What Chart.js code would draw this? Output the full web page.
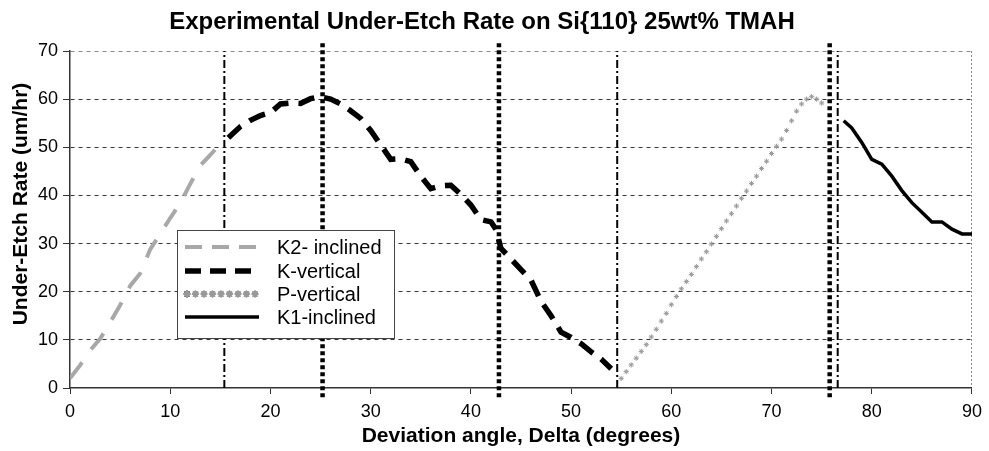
<!DOCTYPE html>
<html>
<head>
<meta charset="utf-8">
<script src="https://cdn.jsdelivr.net/npm/chart.js@4.4.1/dist/chart.umd.min.js"></script>
<style>
    html, body { margin: 0; padding: 0; background: #fff; }
</style>
</head>
<body>
<canvas id="etchChart" width="989" height="451"></canvas>
<script>
const chartTitle = 'Experimental Under-Etch Rate on Si{110} 25wt% TMAH';
const xTitle = 'Deviation angle, Delta (degrees)';
const yTitle = 'Under-Etch Rate (um/hr)';
const seriesNames = ['K2- inclined', 'K-vertical', 'P-vertical', 'K1-inclined'];

const xTicks = [0, 10, 20, 30, 40, 50, 60, 70, 80, 90];
const yTicks = [0, 10, 20, 30, 40, 50, 60, 70];

// K2- inclined
const k2Angles = [0, 1, 2, 3, 4, 5, 6, 7, 8, 9, 10, 11, 12, 13, 14, 14.9];
const k2Rates = [2, 4.7, 7.8, 10.2, 13.6, 17.2, 21.2, 23.8, 28.8, 32.0, 35.3, 38.4, 42.4, 46.2, 48.4, 50.5];

// K-vertical
const kvAngles = [15.8, 17, 18, 19, 20, 21, 22, 23, 24, 25, 26, 27, 28, 29, 30, 31, 32, 33, 34, 35, 36, 37, 38, 39, 40, 41, 42, 42.5, 43, 44, 45, 46, 47, 48, 49, 50, 51, 52, 53, 54];
const kvRates = [52, 54.3, 55.6, 56.6, 57.2, 59, 59.2, 59.1, 60.1, 60.5, 60, 59, 57.6, 56, 53.5, 50.5, 47.5, 47.6, 47, 44, 41.4, 42, 42.1, 40.2, 38, 35, 34.5, 33, 29, 26.8, 24.6, 22.4, 18, 15, 11.6, 10.5, 9.2, 7.5, 6, 4];

// P-vertical
const pvAngles = [55, 55.5, 56, 56.5, 57, 57.5, 58, 58.5, 59, 59.5, 60, 60.5, 61, 61.5, 62, 62.5, 63, 63.5, 64, 64.5, 65, 65.5, 66, 66.5, 67, 67.5, 68, 68.5, 69, 69.5, 70, 70.5, 71, 71.5, 72, 72.5, 73, 73.5, 74, 74.5, 75];
const pvRates = [2.0, 3.4, 4.8, 6.2, 7.6, 9.0, 10.6, 12.2, 13.9, 15.5, 17.3, 19.0, 20.6, 22.1, 23.6, 25.2, 26.8, 28.3, 29.9, 31.5, 33.1, 34.7, 36.2, 37.8, 39.4, 40.9, 42.5, 44.0, 45.6, 47.1, 48.7, 50.2, 51.7, 53.5, 55.5, 57.5, 59.0, 60.0, 60.5, 60.0, 59.2];

// K1-inclined
const k1Angles = [77.2, 78, 79, 80, 81, 82, 83, 84, 85, 86, 87, 88, 89, 90];
const k1Rates = [55.5, 54, 51, 47.5, 46.5, 44, 41, 38.5, 36.5, 34.5, 34.5, 33, 32, 32];

// vertical boundary markers
const dottedMarkers = [25.2, 42.8, 75.8];
const dashDotMarkers = [15.4, 54.6, 76.6];

const font = "'Liberation Sans', Arial, sans-serif";
Chart.defaults.font.family = font;
Chart.defaults.color = '#000';

const toPoints = (xs, ys) => xs.map((x, i) => ({ x, y: ys[i] }));

const markerSets = [];
dottedMarkers.forEach((x) => {
    markerSets.push({
        label: 'marker', data: [{ x, y: -1.9 }, { x, y: 71.8 }],
        borderColor: '#000', borderWidth: 4.5, borderDash: [4, 3],
        pointRadius: 0, clip: false,
    });
});
dashDotMarkers.forEach((x) => {
    markerSets.push({
        label: 'marker', data: [{ x, y: 0 }, { x, y: 70 }],
        borderColor: '#000', borderWidth: 2, borderDash: [8, 3, 2, 3],
        pointRadius: 0, clip: false,
    });
});

const seriesSets = [
    {
        label: seriesNames[0], data: toPoints(k2Angles, k2Rates),
        borderColor: '#a8a8a8', borderWidth: 4, borderDash: [20, 16],
        pointRadius: 0, legendDash: [17, 10],
    },
    {
        label: seriesNames[1], data: toPoints(kvAngles, kvRates),
        borderColor: '#000', borderWidth: 5.5, borderDash: [17, 10],
        pointRadius: 0, legendDash: [16, 9],
    },
    {
        label: seriesNames[2], data: toPoints(pvAngles, pvRates),
        showLine: false, borderColor: '#999', backgroundColor: '#fff',
        pointStyle: 'star', pointRadius: 2.6, pointBorderWidth: 1,
    },
    {
        label: seriesNames[3], data: toPoints(k1Angles, k1Rates),
        borderColor: '#000', borderWidth: 3.5, pointRadius: 0, legendDash: [],
    },
];

const titlePlugin = {
    id: 'topTitle',
    afterDraw(chart) {
        const ctx = chart.ctx;
        ctx.save();
        ctx.fillStyle = '#000';
        ctx.textAlign = 'center';
        ctx.textBaseline = 'middle';
        ctx.font = `bold 24px ${font}`;
        ctx.fillText(chartTitle, 482, 22);
        ctx.translate(21, 204);
        ctx.rotate(-Math.PI / 2);
        ctx.font = `bold 21px ${font}`;
        ctx.fillText(yTitle, 0, 0);
        ctx.restore();
    },
};

const boxLegend = {
    id: 'boxLegend',
    afterDatasetsDraw(chart) {
        const ctx = chart.ctx;
        const left = 177, top = 230, width = 217, height = 108;
        ctx.save();
        ctx.fillStyle = '#fff';
        ctx.fillRect(left, top, width, height);
        ctx.strokeStyle = '#444';
        ctx.lineWidth = 1;
        ctx.strokeRect(left + 0.5, top + 0.5, width, height);
        const rows = [247, 271, 294, 317];
        seriesSets.forEach((ds, i) => {
            const y = rows[i];
            if (ds.showLine === false) {
                for (let x = 187; x <= 258; x += 8.5) {
                    Chart.helpers.drawPoint(ctx, {
                        pointStyle: ds.pointStyle, radius: ds.pointRadius,
                        borderWidth: 1,
                    }, x, y);
                    ctx.strokeStyle = ds.borderColor;
                    ctx.stroke();
                }
            } else {
                ctx.beginPath();
                ctx.setLineDash(ds.legendDash);
                ctx.strokeStyle = ds.borderColor;
                ctx.lineWidth = ds.borderWidth;
                ctx.moveTo(185, y);
                ctx.lineTo(259, y);
                ctx.stroke();
                ctx.setLineDash([]);
            }
            ctx.fillStyle = '#000';
            ctx.font = `20px ${font}`;
            ctx.textAlign = 'left';
            ctx.textBaseline = 'middle';
            ctx.fillText(ds.label, 277, y + 1);
        });
        ctx.restore();
    },
};

new Chart(document.getElementById('etchChart'), {
    type: 'line',
    data: { datasets: [...markerSets, ...seriesSets] },
    plugins: [titlePlugin, boxLegend],
    options: {
        responsive: false,
        animation: false,
        layout: { padding: { left: 0, right: 15, top: 51, bottom: 0 } },
        elements: { line: { tension: 0, borderCapStyle: 'butt' } },
        plugins: { legend: { display: false }, tooltip: { enabled: false }, title: { display: false } },
        scales: {
            x: {
                type: 'linear', min: 0, max: 90,
                afterBuildTicks: (scale) => { scale.ticks = xTicks.map((value) => ({ value })); },
                afterFit: (scale) => { scale.height = 63; },
                ticks: { font: { size: 18 }, color: '#000', padding: 7 },
                grid: {
                    color: (c) => (c.tick && c.tick.value === 90 ? '#8a8a8a' : 'transparent'),
                    tickColor: '#333', tickLength: 6, tickWidth: 1,
                },
                border: { color: '#333', width: 1.5, dash: [2, 2] },
                title: {
                    display: true, text: xTitle,
                    font: { size: 21, weight: 'bold' }, padding: { top: 0, bottom: 2 },
                },
            },
            y: {
                min: 0, max: 70,
                afterBuildTicks: (scale) => { scale.ticks = yTicks.map((value) => ({ value })); },
                afterFit: (scale) => { scale.width = 70; },
                ticks: { font: { size: 18 }, color: '#000', padding: 5 },
                grid: {
                    color: (c) => {
                        if (!c.tick) return 'transparent';
                        if (c.tick.value === 0) return 'transparent';
                        return c.tick.value === 70 ? '#8a8a8a' : '#333';
                    },
                    tickColor: '#333', tickLength: 7, tickWidth: 1,
                },
                border: { color: '#333', width: 1.5, dash: [4, 4] },
                title: { display: false },
            },
        },
    },
});
</script>
</body>
</html>
